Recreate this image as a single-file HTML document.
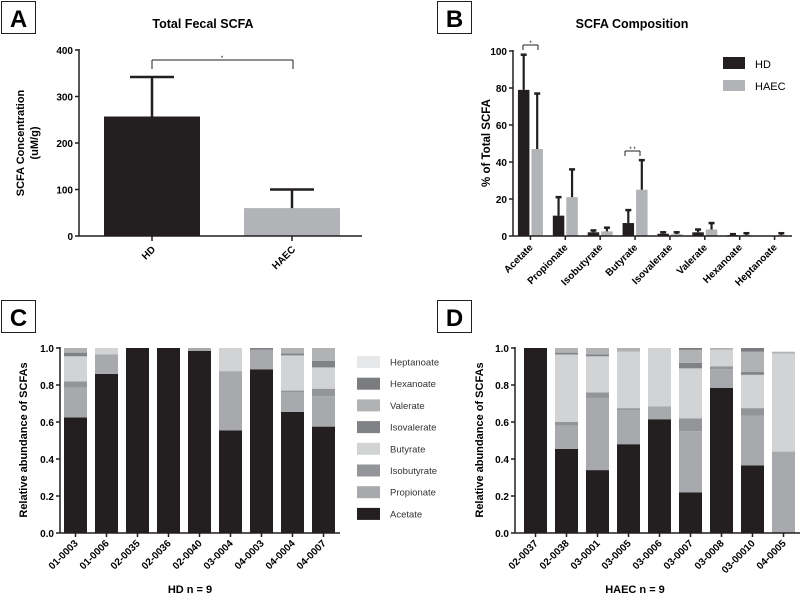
<!DOCTYPE html>
<html><head><meta charset="utf-8"><style>
html,body{margin:0;padding:0;background:#fff}
svg{display:block;font-family:"Liberation Sans",Arial,sans-serif}
.b{font-weight:bold}
</style></head><body>
<svg id="fig" width="800" height="599" viewBox="0 0 800 599" xmlns="http://www.w3.org/2000/svg"></svg>
<script>
const aCats=["HD","HAEC"];
const aVals=[257,60];
const aErr=[342,100];
const aTicks=[0,100,200,300,400];
const bCats=["Acetate","Propionate","Isobutyrate","Butyrate","Isovalerate","Valerate","Hexanoate","Heptanoate"];
const bHD=[79,11,2,7,1.2,2,0.5,0];
const bHDErr=[98,21,3,14,2,3.5,1,0];
const bHAEC=[47,21,2.5,25,1,3.5,0.5,0.5];
const bHAECErr=[77,36,4.5,41,2,7,1.5,1.5];
const bTicks=[0,20,40,60,80,100];
const species=["Acetate","Propionate","Isobutyrate","Butyrate","Isovalerate","Valerate","Hexanoate","Heptanoate"];
const cCats=["01-0003","01-0006","02-0035","02-0036","02-0040","03-0004","04-0003","04-0004","04-0007"];
const cData=[[.625,.16,.035,.135,.02,.025,0,0],[.86,.105,0,.035,0,0,0,0],[1,0,0,0,0,0,0,0],[1,0,0,0,0,0,0,0],[.985,.015,0,0,0,0,0,0],[.555,.32,0,.125,0,0,0,0],[.885,.105,0,0,.01,0,0,0],[.655,.105,.01,.19,.01,.03,0,0],[.575,.165,.04,.115,.035,.07,0,0]];
const dCats=["02-0037","02-0038","03-0001","03-0005","03-0006","03-0007","03-0008","03-00010","04-0005"];
const dData=[[1,0,0,0,0,0,0,0],[.455,.125,.02,.365,.01,.025,0,0],[.34,.39,.03,.195,.01,.035,0,0],[.48,.185,.01,.305,0,.02,0,0],[.615,.07,0,.315,0,0,0,0],[.22,.33,.07,.27,.03,.07,.01,0],[.785,.1,.015,.09,0,.01,0,0],[.365,.27,.04,.18,.015,.11,.02,0],[0,.44,0,.53,0,.01,0,0]];
const stackTicks=[0,0.2,0.4,0.6,0.8,1.0];
const colors=["#231f20","#a7a9ac","#939598","#d1d3d4","#808285","#b0b2b4","#7a7c7f","#e6e7e8"];

const svg=document.getElementById('fig');
const NS="http://www.w3.org/2000/svg";
function el(tag,attrs,parent){const e=document.createElementNS(NS,tag);for(const k in attrs)e.setAttribute(k,attrs[k]);(parent||svg).appendChild(e);return e;}
function txt(s,attrs,parent){const e=el('text',attrs,parent);e.textContent=s;return e;}
function line(x1,y1,x2,y2,w,p){return el('line',{x1,y1,x2,y2,stroke:'#231f20','stroke-width':w||1.5},p);}
function box(letter,x,y,name){const g=el('g',{});
 el('rect',{x:x+0.5,y:y+0.5,width:34,height:32,fill:'#fff',stroke:'#231f20','stroke-width':1},g);
 txt(letter,{x:x+17.5,y:y+26,'text-anchor':'middle','font-size':24,class:'b'},g);}

// ---------- Panel A
box("A",1,1,'panel-a-label');
(function(){
 const g=el('g',{});
 const x0=79,x1=362,y0=236,y1=50,ymax=400;
 const Y=v=>y0-v*(y0-y1)/ymax;
 const cx=[152,292];const bw=96;
 const t=txt("Total Fecal SCFA",{x:203,y:28,'text-anchor':'middle','font-size':12.5,class:'b'},g);
 
 aCats.forEach((c,i)=>{
  const r=el('rect',{x:cx[i]-bw/2,y:Y(aVals[i]),width:bw,height:y0-Y(aVals[i]),fill:i?'#b1b3b6':'#231f20'},g);
  
  line(cx[i],Y(aVals[i]),cx[i],Y(aErr[i]),2.5,g);line(cx[i]-22,Y(aErr[i]),cx[i]+22,Y(aErr[i]),2.5,g);
  line(cx[i],y0,cx[i],y0+5,1.5,g);
  const l=txt(c,{x:0,y:0,'text-anchor':'end','font-size':10,class:'b',transform:`translate(${cx[i]+4},${y0+14}) rotate(-45)`},g);
  
 });
 line(x0,y0,x1,y0,1.5,g);line(x0,y1-1,x0,y0,1.5,g);
 aTicks.forEach(v=>{line(x0-4,Y(v),x0,Y(v),1.5,g);txt(v,{x:x0-6,y:Y(v)+4,'text-anchor':'end','font-size':10,class:'b'},g);});
 line(152,69,152,60,1,g);line(152,60,293,60,1,g);line(293,60,293,69,1,g);
 txt("*",{x:222,y:60,'text-anchor':'middle','font-size':6},g);
 const yt=el('text',{transform:'translate(30,143) rotate(-90)','text-anchor':'middle','font-size':11,class:'b'},g);
 
 const s1=el('tspan',{x:0,dy:-6},yt);s1.textContent="SCFA Concentration";
 const s2=el('tspan',{x:0,dy:14},yt);s2.textContent="(uM/g)";
})();

// ---------- Panel B
box("B",437,1,'panel-b-label');
(function(){
 const g=el('g',{});
 const x0=513,x1=792,y0=236,y1=51;
 const Y=v=>y0-v*(y0-y1)/100;
 const step=(x1-x0)/bCats.length;const bw=11.5;
 txt("SCFA Composition",{x:632,y:28,'text-anchor':'middle','font-size':12.5,class:'b'},g);
 bCats.forEach((c,i)=>{
  const cx=x0+step*(i+0.5);
  [[bHD,bHDErr,'#231f20',-1,'hd'],[bHAEC,bHAECErr,'#b1b3b6',1,'haec']].forEach(([v,e,col,s,n])=>{
   const bx=s<0?cx-1-bw:cx+1;const bc=bx+bw/2;
   if(v[i]>0){const r=el('rect',{x:bx,y:Y(v[i]),width:bw,height:y0-Y(v[i]),fill:col},g);
    }
   if(e[i]>v[i]){line(bc,Y(v[i]),bc,Y(e[i]),2.2,g);line(bc-3,Y(e[i]),bc+3,Y(e[i]),2.5,g);}
  });
  line(cx,y0,cx,y0+4,1.5,g);
  const l=txt(c,{x:0,y:0,'text-anchor':'end','font-size':10,class:'b',transform:`translate(${cx+3},${y0+12}) rotate(-45)`},g);
  
 });
 line(x0,y0,x1,y0,1.5,g);line(x0,y1-1,x0,y0,1.5,g);
 bTicks.forEach(v=>{line(x0-4,Y(v),x0,Y(v),1.5,g);txt(v,{x:x0-6,y:Y(v)+4,'text-anchor':'end','font-size':10,class:'b'},g);});
 const br=(xa,xb,y,s)=>{line(xa,y+5,xa,y,1,g);line(xa,y,xb,y,1,g);line(xb,y,xb,y+5,1,g);txt(s,{x:(xa+xb)/2,y:y,'text-anchor':'middle','font-size':6},g);};
 br(523,538,45,"*");br(625,640,151,"* *");
 const yt=txt("% of Total SCFA",{transform:'translate(490,143) rotate(-90)','text-anchor':'middle','font-size':11.5,class:'b'},g);
 
 const lg=el('g',{},g);
 el('rect',{x:723,y:57,width:22,height:12,fill:'#231f20'},lg);txt("HD",{x:755,y:68,'font-size':11},lg);
 el('rect',{x:723,y:80,width:22,height:11,fill:'#b1b3b6'},lg);txt("HAEC",{x:755,y:90,'font-size':11},lg);
})();

// ---------- stacked panels
function stacked(g,x0,x1,cats,data,firstX,yt,ytx,xtitle,xtitleX){
 const y0=533,y1=348;const Y=v=>y0-v*(y0-y1);const step=31,bw=23;
 cats.forEach((c,i)=>{
  const cx=firstX+step*i;let acc=0;
  data[i].forEach((v,k)=>{if(v>0){const r=el('rect',{x:cx-bw/2,y:Y(acc+v),width:bw,height:Y(acc)-Y(acc+v),fill:colors[k]},g);
   }acc+=v;});
  line(cx,y0,cx,y0+4,1.5,g);
  const l=txt(c,{x:0,y:0,'text-anchor':'end','font-size':10,class:'b',transform:`translate(${cx+3},${y0+11}) rotate(-45)`},g);
  
 });
 line(x0,y0,x1,y0,1.5,g);line(x0,y1-1,x0,y0,1.5,g);
 stackTicks.forEach(v=>{line(x0-4,Y(v),x0,Y(v),1.5,g);txt(v.toFixed(1),{x:x0-6,y:Y(v)+4,'text-anchor':'end','font-size':10,class:'b'},g);});
 const t=txt(yt,{transform:`translate(${ytx},440) rotate(-90)`,'text-anchor':'middle','font-size':11,class:'b'},g);
 
 const xt=txt(xtitle,{x:xtitleX,y:593,'text-anchor':'middle','font-size':11,class:'b'},g);
 
}
box("C",1,300,'panel-c-label');
(function(){
 const g=el('g',{});
 stacked(g,60,340,cCats,cData,75.5,"Relative abundance of SCFAs",27,"HD n = 9",190);
 const lg=el('g',{},g);
 for(let k=7;k>=0;k--){const row=7-k;const cy=362+row*21.7;
  const e=el('g',{},lg);
  el('rect',{x:357,y:cy-6,width:23,height:12,fill:colors[k]},e);
  txt(species[k],{x:390,y:cy+3.5,'font-size':9.5,fill:'#333'},e);}
})();
box("D",437,300,'panel-d-label');
(function(){
 const g=el('g',{});
 stacked(g,515,800,dCats,dData,535.5,"Relative abundance of SCFAs",483,"HAEC n = 9",635);
})();
</script>
</body></html>
